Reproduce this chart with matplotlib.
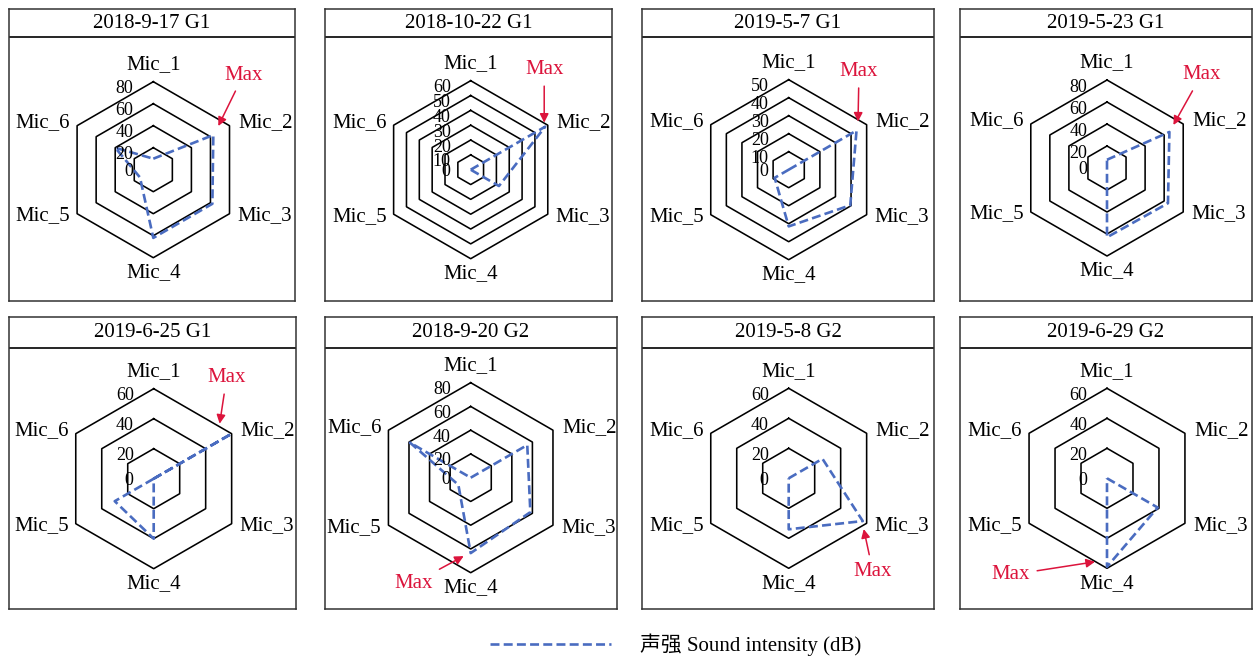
import numpy as np
import matplotlib
matplotlib.use('Agg')
import matplotlib.pyplot as plt
from matplotlib.lines import Line2D
from matplotlib.transforms import offset_copy

plt.rcParams['font.family'] = ['Liberation Serif', 'Noto Sans CJK SC']

# ---------------- data ----------------
mics = ['Mic_1', 'Mic_2', 'Mic_3', 'Mic_4', 'Mic_5', 'Mic_6']
titles = ['2018-9-17 G1', '2018-10-22 G1', '2019-5-7 G1', '2019-5-23 G1',
          '2019-6-25 G1', '2018-9-20 G2', '2019-5-8 G2', '2019-6-29 G2']
s_2018_9_17_G1 = [10, 63, 62, 62, 14, 40]
s_2018_10_22_G1 = [0, 58, 22, 0, 0, 0]
s_2019_5_7_G1 = [0, 43.5, 39.5, 31.5, 9, 0]
s_2019_5_23_G1 = [7.5, 65.5, 64, 63, 0, 0]
s_2019_6_25_G1 = [0, 60, 0, 40, 30, 0]
s_2018_9_20_G2 = [0, 55, 58, 63.5, 12, 59]
s_2019_5_8_G2 = [0, 26, 57, 34, 0, 0]
s_2019_6_29_G2 = [0, 0, 39, 59, 0, 0]
series = [s_2018_9_17_G1, s_2018_10_22_G1, s_2019_5_7_G1, s_2019_5_23_G1,
          s_2019_6_25_G1, s_2018_9_20_G2, s_2019_5_8_G2, s_2019_6_29_G2]
r_max = [80, 60, 50, 80, 60, 80, 60, 60]
r_step = [20, 10, 10, 20, 20, 20, 20, 20]
legend_label = '声强 Sound intensity (dB)'
max_label = 'Max'

# ---------------- layout / style ----------------
W, H = 1253, 658
blue = '#4a6cc0'
red = '#DC143C'
dash = (0, (3.4, 1.6))

boxes = [(9, 9, 295, 301), (325, 9, 612, 301), (642, 9, 934, 301), (960, 9, 1252, 301),
         (9, 317, 296, 609), (325, 317, 617, 609), (642, 317, 934, 609), (960, 317, 1252, 609)]
title_h = [28, 28, 28, 28, 31, 31, 31, 31]
centers = [(153.3, 169.7), (470.7, 169.7), (788.7, 169.7), (1107, 168),
           (153.7, 478.7), (470.7, 477.7), (788.7, 478.3), (1107, 478.3)]
radius_px = [88, 89, 90, 88, 90, 95, 90, 90]
# mic label: (dx, dy) in pixels (y up), ha
mic_label_pos = [((0, 17), 'center'), ((9, 3), 'left'), ((8, -2), 'left'),
                 ((0, -15), 'center'), ((-7, -2), 'right'), ((-7, 3), 'right')]
# max annotation: tip offset from vertex, text offset from tip (pixels, y up)
max_tip_off = [(5, 9), (-1, 4), (1.5, 9), (4, 7), (-12, 10), (-7, -3), (1, -8), (-12, 5)]
max_text_off = [(25, 51), (0, 53), (1, 50), (28, 50), (7, 46), (-50, -27), (9, -42), (-84, -13)]

fig = plt.figure(figsize=(W / 100, H / 100), dpi=100)

theta = np.arange(6) * np.pi / 3
theta_c = np.append(theta, theta[0])

for k in range(8):
    x0, y0, x1, y1 = boxes[k]
    bh = y1 - y0
    fr = fig.add_axes([x0 / W, 1 - y1 / H, (x1 - x0) / W, bh / H])
    fr.set_xlim(0, 1)
    fr.set_ylim(0, 1)
    fr.set_xticks([])
    fr.set_yticks([])
    for sp in fr.spines.values():
        sp.set_color('#333333')
        sp.set_linewidth(1.1)
    fr.axhline(1 - title_h[k] / bh, color='black', lw=1.2)
    fr.text(0.5, 1 - title_h[k] / 2 / bh, titles[k], ha='center', va='center', fontsize=15)

    cx, cy = centers[k]
    R = radius_px[k]
    ax = fig.add_axes([(cx - R) / W, 1 - (cy + R) / H, 2 * R / W, 2 * R / H], projection='polar')
    ax.set_theta_zero_location('N')
    ax.set_theta_direction(-1)
    ax.set_ylim(0, r_max[k])
    ax.grid(False)
    ax.set_xticks([])
    ax.set_yticks([])
    ax.spines['polar'].set_visible(False)
    ax.patch.set_visible(False)

    levels = np.arange(0, r_max[k] + 0.1, r_step[k])
    for lvl in levels[1:]:
        ax.plot(theta_c, [lvl] * 7, color='black', lw=1.15, clip_on=False)
    for lvl in levels:
        dy = -2 if lvl == 0 else -7
        ax.annotate(f'{int(lvl)}', xy=(0, lvl), xytext=(-20, dy), textcoords='offset pixels',
                    ha='right', va='center', fontsize=13)

    for i, m in enumerate(mics):
        (dx, dy), ha = mic_label_pos[i]
        ax.annotate(m, xy=(theta[i], r_max[k]), xytext=(dx, dy), textcoords='offset pixels',
                    ha=ha, va='center', fontsize=15, annotation_clip=False)

    vals = series[k]
    ax.plot(theta_c, vals + [vals[0]], color=blue, lw=1.9, ls=dash, clip_on=False)

    mi = int(np.argmax(vals))
    tdx, tdy = max_tip_off[k]
    tr = offset_copy(ax.transData, fig=fig, x=tdx, y=tdy, units='dots')
    ax.annotate(max_label, xy=(theta[mi], vals[mi]), xycoords=tr,
                xytext=max_text_off[k], textcoords='offset pixels',
                ha='center', va='center', fontsize=15, color=red,
                arrowprops=dict(arrowstyle='-|>', color=red, lw=1.1,
                                mutation_scale=13, shrinkA=3, shrinkB=0),
                annotation_clip=False)

handle = Line2D([], [], color=blue, lw=1.9, ls=dash)
fig.legend([handle], [legend_label], loc='center', bbox_to_anchor=(676 / W, 1 - 645 / H),
           frameon=False, handlelength=5.8, handletextpad=1.4, fontsize=15)

fig.savefig('out.png', dpi=100)
